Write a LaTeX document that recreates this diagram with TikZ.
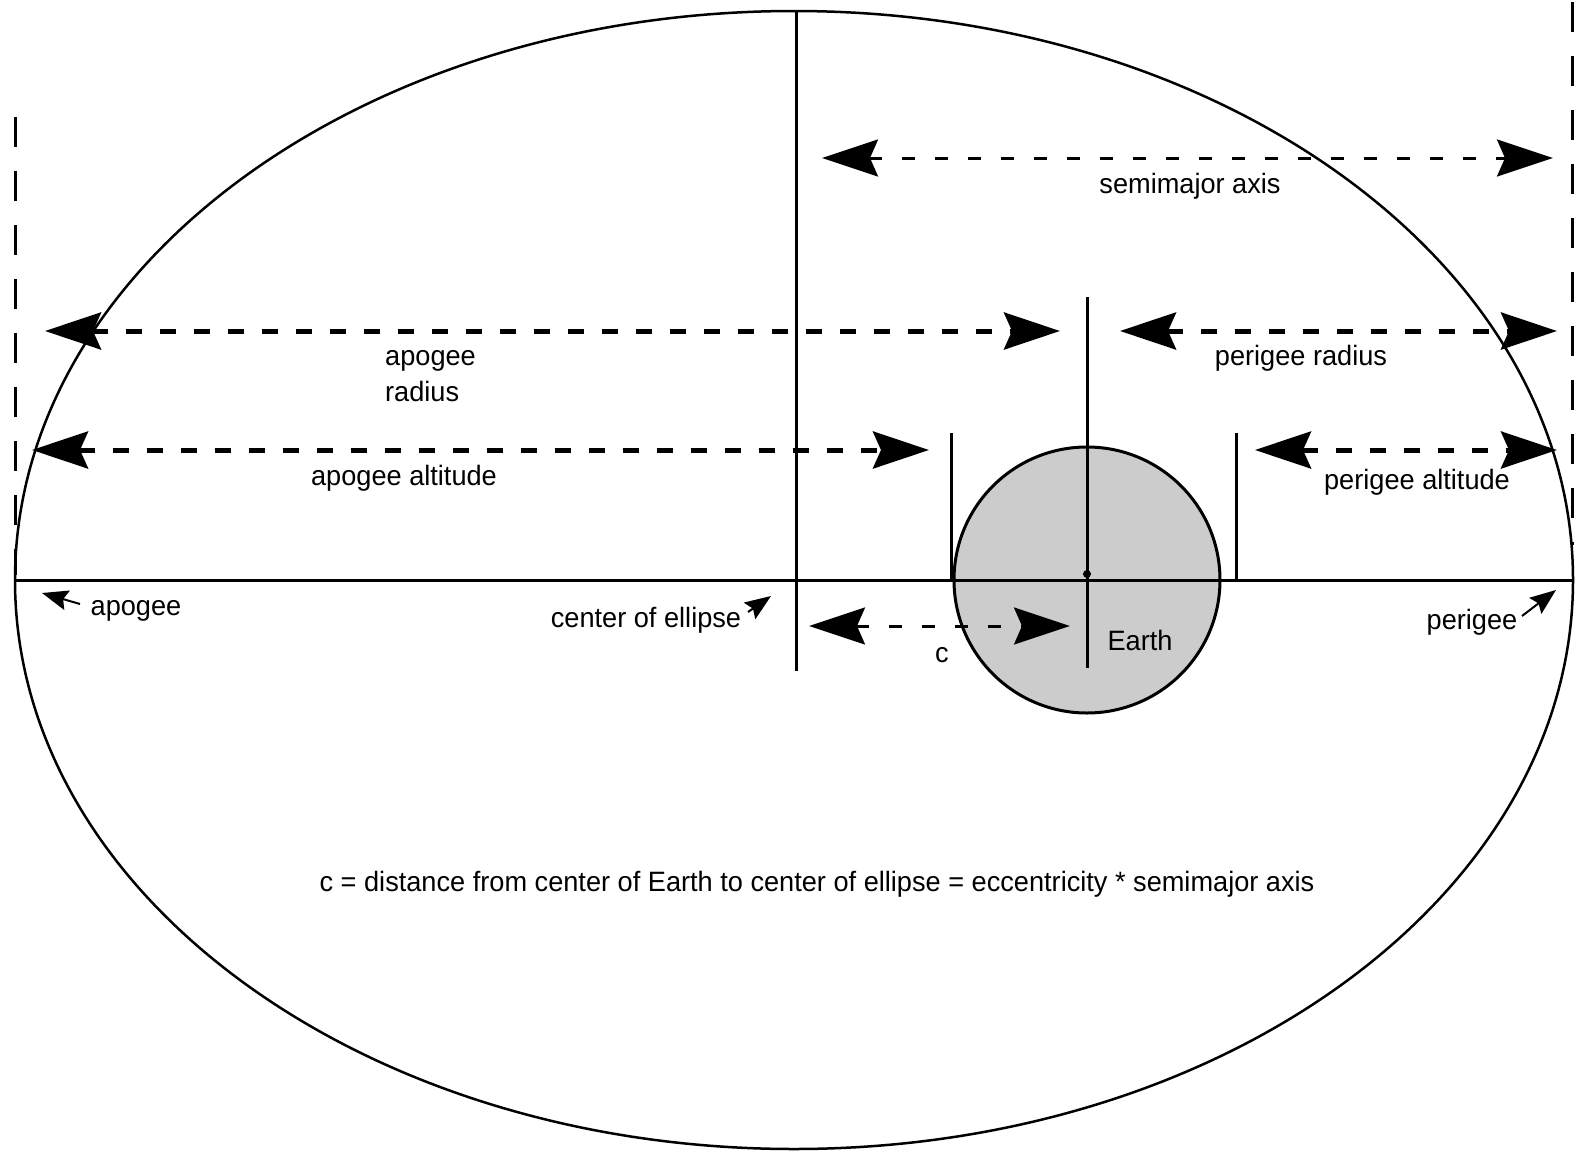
\documentclass[tikz,border=0pt]{standalone}
\usepackage{fontspec}
\setmainfont{Liberation Sans}[FakeStretch=0.97]
\usetikzlibrary{arrows.meta}
\begin{document}
\begin{tikzpicture}[x=1pt,y=-1pt,
  lbl/.style={font=\fontsize{28}{36}\selectfont, inner sep=0pt},
  bigtip/.tip={Stealth[length=56pt,width=37pt,inset=8pt]},
  dimarrow/.style={{bigtip}-{bigtip}},
  thickdash/.style={dimarrow, line width=5pt, dash pattern=on 16pt off 18pt},
  thindash/.style={dimarrow, line width=3pt, dash pattern=on 13pt off 20pt},
  edgedash/.style={line width=3pt, dash pattern=on 30pt off 24pt},
  solidline/.style={line width=3pt},
  pointer/.style={line width=2pt, -{Stealth[length=26pt,width=20pt,inset=4pt]}}]
\useasboundingbox (0,0) rectangle (1575,1154);
\fill[white] (0,0) rectangle (1575,1154);

% ellipse and Earth
\coordinate (ctr) at (794,580);
\draw[line width=2.5pt] (ctr) ellipse [x radius=779, y radius=569];
\node[circle, draw, fill=gray!40, line width=3pt, minimum size=266pt, inner sep=0pt] (earth) at (1087,580) {};

% key points
\coordinate (apo) at (15,580);
\coordinate (peri) at (1572,580);
\draw[solidline] (apo) -- (peri);

% edge dashed lines
\coordinate (ldTop) at (15,117);
\coordinate (ldBot) at (15,575);
\draw[edgedash] (ldTop) -- (ldBot);
\coordinate (rdTop) at (1572,2);
\coordinate (rdBot) at (1572,545);
\draw[edgedash] (rdTop) -- (rdBot);

% vertical lines
\coordinate (cvTop) at (796,10);
\coordinate (cvBot) at (796,671);
\draw[solidline] (cvTop) -- (cvBot);
\coordinate (evTop) at (1087,297);
\coordinate (evBot) at (1087,668);
\draw[solidline] (evTop) -- (evBot);
\coordinate (aaTop) at (951,433);
\coordinate (aaBot) at (951,580);
\draw[solidline] (aaTop) -- (aaBot);
\coordinate (paTop) at (1236,433);
\coordinate (paBot) at (1236,580);
\draw[solidline] (paTop) -- (paBot);
\fill (1087,574) circle (4pt);

% dimension arrows
\coordinate (semL) at (822,158);
\coordinate (semR) at (1553,158);
\draw[thindash] (semL) -- (semR);
\coordinate (arL) at (45,331);
\coordinate (arR) at (1060,331);
\draw[thickdash] (arL) -- (arR);
\coordinate (prL) at (1120,331);
\coordinate (prR) at (1557,331);
\draw[thickdash] (prL) -- (prR);
\coordinate (aaL) at (32,450);
\coordinate (aaR) at (929,450);
\draw[thickdash] (aaL) -- (aaR);
\coordinate (paL) at (1255,450);
\coordinate (paR) at (1557,450);
\draw[thickdash] (paL) -- (paR);
\coordinate (cL) at (809,626);
\coordinate (cR) at (1070,626);
\draw[thindash] (cL) -- (cR);

% labels
\node[lbl] (tSem) at (1190,186) {semimajor axis};
\node[lbl, anchor=west, align=left] (tAr) at (385,376) {apogee\\radius};
\node[lbl] (tPr) at (1301,358) {perigee radius};
\node[lbl] (tAa) at (404,478) {apogee altitude};
\node[lbl] (tPa) at (1417,482) {perigee altitude};
\node[lbl] (tApo) at (136,611) {apogee};
\node[lbl] (tCtr) at (646,620) {center of ellipse};
\node[lbl] (tPeri) at (1472,622) {perigee};
\node[lbl] (tEarth) at (1140,640) {Earth};
\node[lbl] (tC) at (942,655) {c};
\node[lbl] (tNote) at (817,884) {c = distance from center of Earth to center of ellipse = eccentricity * semimajor axis};

% pointers
\coordinate (pApoT) at (80,604);
\coordinate (pApoH) at (42,593);
\draw[pointer] (pApoT) -- (pApoH);
\coordinate (pCtrT) at (748,612);
\coordinate (pCtrH) at (771,596);
\draw[pointer] (pCtrT) -- (pCtrH);
\coordinate (pPeriT) at (1522,616);
\coordinate (pPeriH) at (1556,590);
\draw[pointer] (pPeriT) -- (pPeriH);
\end{tikzpicture}
\end{document}
